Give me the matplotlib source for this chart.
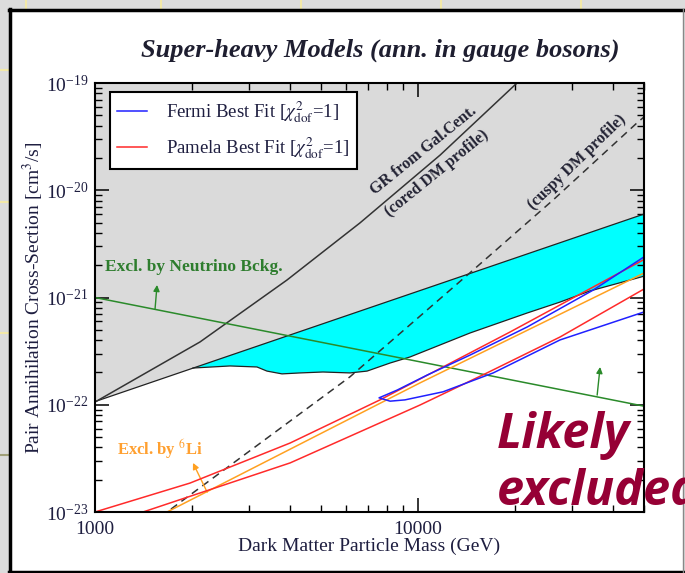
import matplotlib.pyplot as plt
import matplotlib.ticker as ticker
from matplotlib.lines import Line2D
from matplotlib.patches import Rectangle

plt.rcParams['font.family'] = ['Liberation Serif', 'DejaVu Serif']
plt.rcParams['mathtext.fontset'] = 'stix'

# masses in GeV, cross-sections in cm^3/s

# gamma-ray bound from the Galactic Centre, cored and cuspy profiles
gr_cored_m = [1000, 2113, 3927, 6607, 11700, 20230, 24000]
gr_cored_sv = [1.06e-22, 3.85e-22, 1.455e-21, 4.96e-21, 2.13e-20, 1.0e-19, 1.58e-19]
gr_cuspy_m = [1480, 1671, 6150, 14790, 26160, 47540, 50000]
gr_cuspy_sv = [7.65e-24, 1.0e-23, 1.82e-22, 1.80e-21, 8.11e-21, 4.24e-20, 4.82e-20]

# edge of the grey excluded region
excl_m = [1000, 50000]
excl_sv = [1.07e-22, 6.0e-21]

# lower edge of the cyan band (meets the grey edge at its first point)
band_m = [2010, 2618, 3172, 3405, 3790, 4310, 5075, 6155, 6950, 8190, 9440,
          14480, 21750, 27500, 34000, 50000]
band_sv = [2.20e-22, 2.30e-22, 2.25e-22, 2.06e-22, 1.94e-22, 1.98e-22, 2.02e-22,
           1.98e-22, 2.06e-22, 2.45e-22, 2.79e-22, 4.67e-22, 7.17e-22, 9.07e-22,
           1.15e-21, 1.58e-21]

# neutrino background bound
nu_m = [1000, 50000]
nu_sv = [1.0e-21, 9.7e-23]

# 6Li bound
li_m = [1671, 10140, 50000]
li_sv = [1.0e-23, 1.60e-22, 1.69e-21]

# Fermi best fit contour (closed)
fermi_m = [50000, 34760, 21750, 14490, 10660, 8610, 7570, 8190, 9100, 11940,
           17070, 27480, 50000]
fermi_sv = [2.39e-21, 1.17e-21, 5.31e-22, 2.91e-22, 1.89e-22, 1.37e-22, 1.16e-22,
            1.08e-22, 1.11e-22, 1.32e-22, 1.98e-22, 4.02e-22, 7.33e-22]

# Pamela best fit contour, two edges
pamela_hi_m = [1000, 1967, 4018, 7620, 19230, 50000]
pamela_hi_sv = [1.0e-23, 1.86e-23, 4.40e-23, 1.11e-22, 4.76e-22, 2.26e-21]
pamela_lo_m = [1300, 1408, 4018, 10140, 16330, 27480, 50000]
pamela_lo_sv = [9.2e-24, 1.0e-23, 2.87e-23, 9.95e-23, 1.98e-22, 4.28e-22, 1.20e-21]

# arrows: (base, tip)
nu_arrows = [((1534, 7.82e-22), (1556, 1.31e-21)),
             ((35810, 1.23e-22), (36570, 2.25e-22))]
li_arrow = ((2224, 1.53e-23), (2010, 2.87e-23))

y_ticks = [1e-23, 1e-22, 1e-21, 1e-20, 1e-19]
x_ticks = [1000, 10000]
x_ticklabels = ['1000', '10000']

W, H = 685, 573
fig = plt.figure(figsize=(W / 100, H / 100), dpi=100)
fig.patch.set_facecolor('#dcdcdc')

# slide panel behind the plot
fig.add_artist(Rectangle((9 / W, 0), 674 / W, 1 - 9 / H, transform=fig.transFigure,
                         facecolor='white', edgecolor='none', zorder=-5))
for yy in [70, 202, 333]:
    fig.add_artist(Line2D([0, 8 / W], [1 - yy / H] * 2, color='#f3e9a8', lw=1.5))
fig.add_artist(Line2D([0, 8 / W], [1 - 455 / H] * 2, color='#a0a078', lw=1.5))
for xx in [26, 161, 301, 441, 581]:
    fig.add_artist(Line2D([xx / W] * 2, [1, 1 - 8 / H], color='#f3e9a8', lw=1.5))
fig.add_artist(Line2D([10 / W] * 2, [1 - 9 / H, 0], color='black', lw=2.5))
fig.add_artist(Line2D([9 / W, 683 / W], [1 - 10 / H] * 2, color='black', lw=2.5))
fig.add_artist(Line2D([9 / W, 683 / W], [1.5 / H] * 2, color='black', lw=2.5))
fig.add_artist(Line2D([683 / W] * 2, [1 - 9 / H, 0], color='#888888', lw=1))

ax = fig.add_axes([95 / W, 61 / H, 549 / W, 429 / H])
ax.set_xscale('log')
ax.set_yscale('log')
ax.set_xlim(1000, 50000)
ax.set_ylim(1e-23, 1e-19)

# grey excluded region and cyan band
ax.fill(excl_m + excl_m[::-1], excl_sv + [1e-19, 1e-19], color='#dadada', lw=0, zorder=0)
ax.fill(band_m + [excl_m[-1]], band_sv + [excl_sv[-1]], color='#00ffff', lw=0, zorder=1)
ax.plot(excl_m, excl_sv, color='#222222', lw=0.9, zorder=2)
ax.plot(band_m, band_sv, color='#222222', lw=0.9, zorder=2)

ax.plot(gr_cored_m, gr_cored_sv, color='#333333', lw=1.1, zorder=3)
ax.plot(gr_cuspy_m, gr_cuspy_sv, color='#333333', lw=1.1, ls=(0, (5, 3.5)), zorder=3)

ax.plot(nu_m, nu_sv, color='#2a8a2a', lw=1.1, zorder=4)
ax.plot(li_m, li_sv, color='#ffa020', lw=1.1, zorder=4)
ax.plot(pamela_hi_m, pamela_hi_sv, color='#ff2a2a', lw=1.1, zorder=4)
ax.plot(pamela_lo_m, pamela_lo_sv, color='#ff2a2a', lw=1.1, zorder=4)
ax.plot(fermi_m, fermi_sv, color='#2020ff', lw=1.1, zorder=5)

for base, tip in nu_arrows:
    ax.annotate('', xy=tip, xytext=base,
                arrowprops=dict(arrowstyle='-|>', color='#2a8a2a', lw=1.0,
                                mutation_scale=9, shrinkA=0, shrinkB=0))
ax.annotate('', xy=li_arrow[1], xytext=li_arrow[0],
            arrowprops=dict(arrowstyle='-|>', color='#ffa020', lw=1.0,
                            mutation_scale=9, shrinkA=0, shrinkB=0))

ax.text(1074, 1.92e-21, 'Excl. by Neutrino Bckg.', color='#2e7d2e', fontsize=12.5,
        fontweight='bold', va='center', ha='left', zorder=6)
ax.text(1170, 3.87e-23, 'Excl. by $^{6}$Li', color='#ffa030', fontsize=12,
        fontweight='bold', va='center', ha='left', zorder=6)
ax.text(10420, 2.37e-20, 'GR from Gal.Cent.', color='#222233', fontsize=11.5,
        fontweight='bold', rotation=39, ha='center', va='center', zorder=6)
ax.text(11430, 1.45e-20, '(cored DM profile)', color='#222233', fontsize=11.5,
        fontweight='bold', rotation=39, ha='center', va='center', zorder=6)
ax.text(31050, 1.83e-20, '(cuspy DM profile)', color='#222233', fontsize=11.5,
        fontweight='bold', rotation=44, ha='center', va='center', zorder=6)

# axes styling
for sp in ax.spines.values():
    sp.set_linewidth(1.5)
    sp.set_zorder(7)
ax.xaxis.set_major_locator(ticker.FixedLocator(x_ticks))
ax.xaxis.set_major_formatter(ticker.FixedFormatter(x_ticklabels))
ax.xaxis.set_minor_locator(ticker.LogLocator(subs=range(2, 10)))
ax.xaxis.set_minor_formatter(ticker.NullFormatter())
ax.yaxis.set_major_locator(ticker.FixedLocator(y_ticks))
ax.yaxis.set_major_formatter(ticker.LogFormatterSciNotation())
ax.yaxis.set_minor_locator(ticker.LogLocator(subs=range(2, 10), numticks=20))
ax.yaxis.set_minor_formatter(ticker.NullFormatter())
ax.tick_params(which='both', direction='in', top=True, right=True,
               labelsize=14, labelcolor='#1e1e40')
ax.tick_params(which='major', length=10, width=1.1, pad=5)
ax.tick_params(axis='x', which='major', pad=6.5)
ax.tick_params(which='minor', length=5, width=1.0)

ax.set_xlabel('Dark Matter Particle Mass (GeV)', fontsize=14, color='#1e1e40')
ax.set_ylabel('Pair Annihilation Cross-Section [cm$^3$/s]', fontsize=14, color='#1e1e40')
ax.xaxis.set_label_coords(0.5, -0.06)
ax.yaxis.set_label_coords(-0.09, 0.5)

handles = [Line2D([], [], color='#2020ff', lw=1.1), Line2D([], [], color='#ff2a2a', lw=1.1)]
labels = [r'Fermi Best Fit [$\chi^2_{\rm dof}$=1]', r'Pamela Best Fit [$\chi^2_{\rm dof}$=1]']
leg = ax.legend(handles, labels, loc='upper left', bbox_to_anchor=(0.0273, 0.979),
                fontsize=13.5, fancybox=False, framealpha=1, edgecolor='black',
                borderaxespad=0, handlelength=1.6, handletextpad=1.0, labelspacing=0.55)
leg.get_frame().set_linewidth(1.5)
leg.set_zorder(8)
for t in leg.get_texts():
    t.set_color('#1e1e40')

fig.text(380 / W, 1 - 50 / H, 'Super-heavy Models (ann. in gauge bosons)', fontsize=19,
         fontweight='bold', fontstyle='italic', ha='center', va='center', color='#1e1e30')

# slide overlay text
for line, base_y in [('Likely', 448), ('excluded', 505)]:
    fig.text(497 / W, 1 - base_y / H, line, fontsize=35, color='#960035',
             family=['Open Sans', 'DejaVu Sans'], fontweight='bold', fontstyle='italic',
             ha='left', va='baseline', zorder=20)

fig.savefig('out.png', dpi=100)
